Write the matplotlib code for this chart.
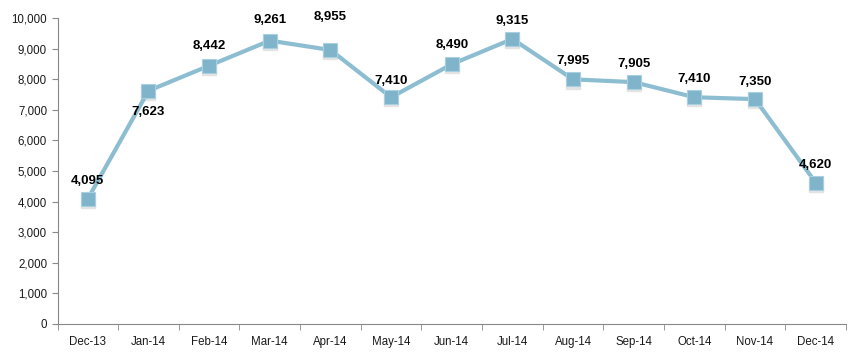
import matplotlib
matplotlib.use("Agg")
import matplotlib.pyplot as plt
import matplotlib.ticker as mticker
import numpy as np

plt.rcParams['font.family'] = ['Liberation Sans', 'DejaVu Sans']

months = ['Dec-13', 'Jan-14', 'Feb-14', 'Mar-14', 'Apr-14', 'May-14', 'Jun-14',
          'Jul-14', 'Aug-14', 'Sep-14', 'Oct-14', 'Nov-14', 'Dec-14']
values = [4095, 7623, 8442, 9261, 8955, 7410, 8490, 9315, 7995, 7905, 7410, 7350, 4620]

# label offsets in points (Excel had them dragged around a bit)
label_dy = [13, -15, 14, 15, 24, 12, 14, 13, 13, 13, 13, 12, 13]

fig = plt.figure(figsize=(8.61, 3.64), dpi=100)
ax = fig.add_axes([0.0668, 0.1099, 0.9158, 0.8406])

x = np.arange(len(months))
ax.plot(x, values, color='#8dbdd1', lw=3, zorder=2)
# faint shadow under the squares
ax.plot(x, np.array(values) - 70, ls='none', marker='s', ms=10,
        color='#e4e4e4', zorder=1)
ax.plot(x, values, ls='none', marker='s', ms=10, markerfacecolor='#7fb4cb',
        markeredgecolor='#a9d0e0', markeredgewidth=0.8, zorder=3)

for xi, v, dy in zip(x, values, label_dy):
    ax.annotate(f'{v:,}', (xi, v), xytext=(0, dy), textcoords='offset points',
                ha='center', va='center', fontsize=9.5, fontweight='bold',
                color='black')

ax.set_xlim(-0.5, len(months) - 0.5)
ax.set_ylim(0, 10000)
ax.yaxis.set_major_locator(mticker.MultipleLocator(1000))
ax.yaxis.set_major_formatter(mticker.FuncFormatter(lambda v, p: f'{int(v):,}'))

ax.set_xticks(x)
ax.set_xticklabels(months)
ax.set_xticks(np.arange(-0.5, len(months)), minor=True)
ax.tick_params(axis='x', which='major', length=0, pad=9, labelsize=8.3, colors='#1a1a1a')
ax.tick_params(axis='x', which='minor', length=4, color='#888888', direction='out')
ax.tick_params(axis='y', length=4, labelsize=8.3, colors='#1a1a1a')
ax.tick_params(axis='y', color='#888888')

for s in ['top', 'right']:
    ax.spines[s].set_visible(False)
for s in ['left', 'bottom']:
    ax.spines[s].set_color('#888888')
    ax.spines[s].set_linewidth(0.8)

fig.savefig('out.png', dpi=100)
